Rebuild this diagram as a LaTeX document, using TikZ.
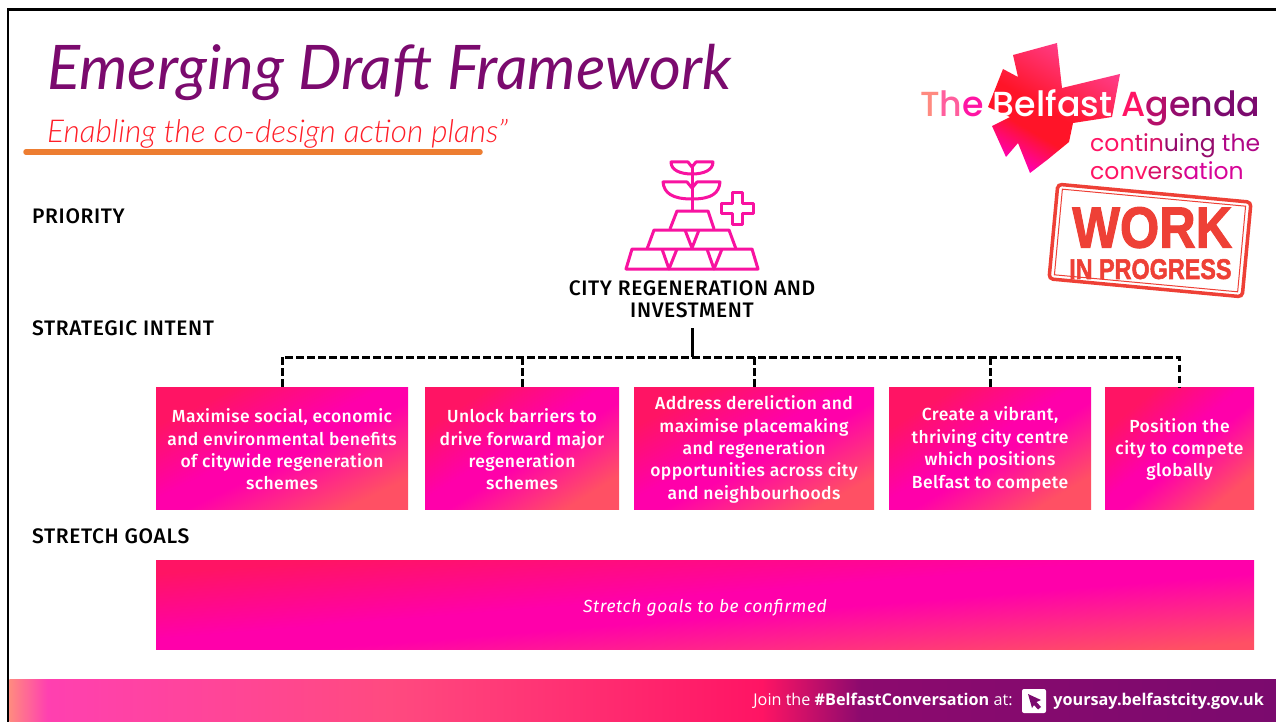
\documentclass[tikz,border=0pt]{standalone}
\usepackage{fontspec}
\setmainfont{Fira Sans}
\newfontfamily\handfont{Lato Italic}
\newfontfamily\subfont{Lato Light Italic}
\newfontfamily\logofont{Poppins Medium}
\newfontfamily\logosubfont{Poppins}
\newfontfamily\boxfont[LetterSpace=2.5]{Fira Sans Medium}
\newfontfamily\boxitfont[LetterSpace=3.2]{Fira Sans Italic}
\newfontfamily\headfont[LetterSpace=3]{Fira Sans Medium}
\newfontfamily\footfont{Open Sans}
\newfontfamily\stampfont[FakeBold=2]{Liberation Sans Bold}
\usetikzlibrary{positioning}

\definecolor{framepurple}{HTML}{7B0A6E}
\definecolor{subred}{HTML}{FF1E28}
\definecolor{underorange}{HTML}{ED7D31}
\definecolor{iconpink}{HTML}{F812A0}
\definecolor{stampred}{HTML}{EE4036}
\definecolor{boxred}{HTML}{FF1464}
\definecolor{boxmagenta}{HTML}{FF00AA}
\definecolor{boxorange}{HTML}{FF5064}
\definecolor{logopink}{HTML}{FF4090}
\definecolor{logored}{HTML}{FF1428}
\definecolor{footcoral}{HTML}{FF8A80}
\definecolor{footpink}{HTML}{FF40B0}
\definecolor{footrose}{HTML}{FF4A80}
\definecolor{footdeep}{HTML}{8C0A6E}

\pgfdeclarehorizontalshading{boxshade}{100bp}{
  color(0bp)=(boxred); color(25bp)=(boxred); color(27bp)=(boxred); color(47bp)=(boxmagenta);
  color(54bp)=(boxmagenta); color(75bp)=(boxorange); color(100bp)=(boxorange)}
\pgfdeclarehorizontalshading{logoshade}{100bp}{
  color(0bp)=(logopink); color(25bp)=(logopink); color(52bp)=(logored);
  color(62bp)=(logored); color(75bp)=(boxmagenta); color(100bp)=(boxmagenta)}
\pgfdeclarehorizontalshading{footshade}{100bp}{
  color(0bp)=(footcoral); color(25bp)=(footcoral); color(26.5bp)=(footpink); color(40bp)=(footrose);
  color(54.7bp)=(boxred); color(58.6bp)=(footdeep); color(75bp)=(framepurple); color(100bp)=(framepurple)}

\tikzset{
  headlabel/.style={anchor=west, inner sep=0pt, font=\headfont\fontsize{21}{24}\selectfont},
  goalbox/.style={shading=boxshade, inner sep=0pt},
  goaltext/.style={inner sep=0pt, text=white, align=center, font=\boxfont\fontsize{17.5}{22.4}\selectfont},
  linkline/.style={line width=3pt, dash pattern=on 7.5pt off 3.5pt},
  iconline/.style={draw=iconpink, line width=3pt, line join=round}
}
\newcommand{\goalnode}[4]{
  \node[goalbox, shading angle={-atan(#2/122)}, minimum width=#2, minimum height=122] (#1) at (#3,448) {};
  \node[goaltext, yshift=-1.5pt] (#1text) at (#1) {#4};
}

\begin{document}
\begin{tikzpicture}[x=1pt,y=-1pt]
  \useasboundingbox (0,0) rectangle (1276,722);
  \fill[white] (0,0) rectangle (1276,722);

  % frame and footer
  \draw[line width=2.8pt] (8,722) -- (8,9.5) -- (1276,9.5);
  \shade[shading=footshade, shading angle=0] (9.4,679) rectangle (1276,722);

  % title
  \node[anchor=west, inner sep=0pt, text=framepurple, font=\handfont\fontsize{61.5}{62}\selectfont] (title) at (47,72) {Emerging Draft Framework};
  \node[anchor=west, inner sep=0pt, text=subred, font=\subfont\fontsize{31.5}{33}\selectfont] (subtitle) at (47,134) {Enabling the co-design action plans”};
  \draw[underorange, line width=5.5pt, line cap=round] (26,152) -- (480,152);

  % left labels
  \node[headlabel] (priority) at (32,216) {PRIORITY};
  \node[headlabel] (intent) at (32,328) {STRATEGIC INTENT};
  \node[headlabel] (stretch) at (32,536) {STRETCH GOALS};

  % logo
  \shade[shading=logoshade, shading angle=-120] (1013,55) -- (1057,43) -- (1062,88) -- (1120,74) -- (1112,117) -- (1073,123)
    -- (1069,142) -- (1047,160) -- (1030,173) -- (1018,143) -- (1006,157) -- (992,126) -- (1010,117) -- (988,107)
    -- (1003,69) -- (1018,77) -- cycle;
  \node[anchor=west, inner sep=0pt, font=\logofont\fontsize{34.8}{36}\selectfont] (logotext) at (920,108)
    {\textcolor{footcoral}{T}\textcolor{footcoral!40!footpink}{h}\textcolor{boxmagenta!85!footcoral}{e} \textcolor{white}{Belfast} \textcolor{boxred}{A}\textcolor{boxred!45!framepurple}{g}\textcolor{framepurple!80!boxred}{e}\textcolor{framepurple}{nda}};
  \node[anchor=west, inner sep=0pt, font=\logosubfont\fontsize{23.5}{25}\selectfont] (logosub) at (1090,146)
    {\textcolor{boxred}{con}\textcolor{boxred!70!framepurple}{tin}\textcolor{framepurple!80!boxred}{uing} \textcolor{framepurple!60!boxmagenta}{the}};
  \node[anchor=west, inner sep=0pt, font=\logosubfont\fontsize{23.5}{25}\selectfont] (logosub2) at (1090,171)
    {\textcolor{boxred}{conv}\textcolor{boxred!70!framepurple}{ers}\textcolor{boxmagenta!70!framepurple}{ation}};

  % stamp
  \begin{scope}[shift={(1150,240.5)}, rotate=-5.3]
    \draw[stampred, line width=3.5pt, rounded corners=4pt] (-97,-47.5) rectangle (97,47.5);
    \draw[stampred, line width=1pt] (-92,-43) rectangle (92,43);
    \node[text=stampred, inner sep=0pt, xscale=.87, font=\stampfont\fontsize{58}{58}\selectfont] (work) at (1,-13) {WORK};
    \node[text=stampred, inner sep=0pt, xscale=.82, font=\stampfont\fontsize{28.5}{28.5}\selectfont] (progress) at (3,28.5) {IN PROGRESS};
  \end{scope}

  % icon
  \draw[iconline] (626,269) -- (632,249) -- (752,249) -- (758,269) -- cycle;
  \draw[iconline] (662,249) -- (669,269) -- (677,249);
  \draw[iconline] (707,249) -- (714,269) -- (722,249);
  \draw[iconline] (647,249) -- (654,230) -- (729,230) -- (736,249);
  \draw[iconline] (685,230) -- (692,248) -- (699,230);
  \draw[iconline] (670,229) -- (677,211) -- (708,211) -- (714,229);
  \draw[iconline] (692,211) -- (692,164);
  \draw[iconline] (692,188) -- (687,182) -- (663,182) .. controls (664,193) and (672,199) .. (692,199);
  \draw[iconline] (692,188) -- (697,182) -- (720,182) .. controls (719,193) and (712,199) .. (692,199);
  \draw[iconline] (692,167) -- (688,162) -- (671,162) .. controls (671,170) and (680,174) .. (692,174);
  \draw[iconline] (692,167) -- (696,162) -- (713,162) .. controls (713,170) and (704,174) .. (692,174);
  \draw[iconline] (732,193) -- (742,193) -- (742,203) -- (753,203) -- (753,213) -- (742,213) -- (742,224) -- (732,224)
    -- (732,213) -- (721,213) -- (721,203) -- (732,203) -- cycle;

  % priority name and the links below it
  \node[align=center, inner sep=0pt, font=\headfont\fontsize{21}{22.5}\selectfont] (regen) at (692,299) {CITY REGENERATION AND\\INVESTMENT};
  \coordinate (bus) at (692,357);

  % intent boxes
  \goalnode{goalA}{252}{282}{Maximise social, economic\\and environmental benefits\\of citywide regeneration\\schemes}
  \goalnode{goalB}{194}{522}{Unlock barriers to\\drive forward major\\regeneration\\schemes}
  \goalnode{goalC}{240}{754}{Address dereliction and\\maximise placemaking\\and regeneration\\opportunities across city\\and neighbourhoods}
  \goalnode{goalD}{202}{990}{Create a vibrant,\\thriving city centre\\which positions\\Belfast to compete}
  \goalnode{goalE}{149}{1179.5}{Position the\\city to compete\\globally}

  \draw[line width=3pt] (692,328) -- (bus);
  \draw[linkline] (goalA.north) -- (goalA.north |- bus) -- (goalE.north |- bus) -- (goalE.north);
  \foreach \goalname in {goalB,goalC,goalD}
    \draw[linkline] (\goalname.north |- bus) -- (\goalname.north);

  % stretch goals
  \node[goalbox, shading angle=-85.4, minimum width=1098, minimum height=89] (goals) at (705,604.5) {};
  \node[goaltext, yshift=-3pt, font=\boxitfont\fontsize{17.5}{22}\selectfont] (goalstext) at (goals) {Stretch goals to be confirmed};

  % footer text
  \node[fill=white, rounded corners=2pt, minimum size=24, inner sep=0pt] (cursorbox) at (1034,701) {};
  \fill[framepurple] (1028,694) -- (1041,700) -- (1036.5,702) -- (1041,707) -- (1038,709.5) -- (1034,705) -- (1032,708) -- cycle;
  \node[left=9pt of cursorbox, inner sep=0pt, text=white, font=\footfont\fontsize{16.2}{18}\selectfont] (joinlabel) {Join the \textbf{\#BelfastConversation} at:};
  \node[right=7pt of cursorbox, inner sep=0pt, text=white, font=\footfont\bfseries\fontsize{16.2}{18}\selectfont] (urllabel) {yoursay.belfastcity.gov.uk};
\end{tikzpicture}
\end{document}
